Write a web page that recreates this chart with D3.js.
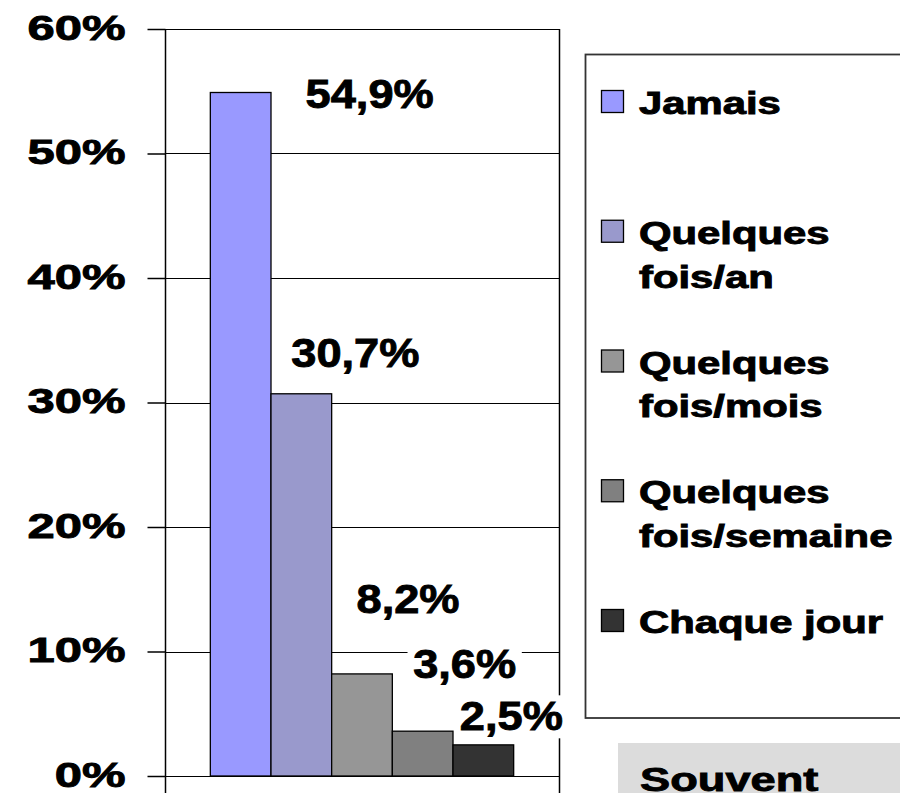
<!DOCTYPE html>
<html>
<head>
<meta charset="utf-8">
<script src="https://cdn.jsdelivr.net/npm/d3@7"></script>
<style>
  body { margin: 0; background: #fff; }
  svg text { font-family: "Liberation Sans", Arial, sans-serif; font-weight: bold; fill: #000; stroke: #000; stroke-width: 0.9px; }
</style>
</head>
<body>
<script>
// DATA
const series = ["Jamais", "Quelques fois/an", "Quelques fois/mois", "Quelques fois/semaine", "Chaque jour"];
const legendLines = [["Jamais"], ["Quelques", "fois/an"], ["Quelques", "fois/mois"], ["Quelques", "fois/semaine"], ["Chaque jour"]];
const values = [54.9, 30.7, 8.2, 3.6, 2.5];
const valueLabels = ["54,9%", "30,7%", "8,2%", "3,6%", "2,5%"];
const colors = ["#9999ff", "#9999cc", "#969696", "#808080", "#333333"];
const yTicks = [0, 10, 20, 30, 40, 50, 60];
const noteText = "Souvent";

// label nudges (dx from bar centre, dy from bar top to baseline) - labels were moved by hand in the original
const labelNudge = [[129, 16], [54, -27], [46, -61], [42, -53], [28, -15]];

// LAYOUT
const W = 900, H = 793;
const plot = { left: 165, right: 559, top: 29, bottom: 776 };

const svg = d3.select("body").append("svg")
  .attr("width", W)
  .attr("height", H);

const y = d3.scaleLinear().domain([0, 60]).range([plot.bottom, plot.top]);
const x0 = d3.scaleBand().domain([""]).range([plot.left, plot.right]).padding(0.13);
const x1 = d3.scaleBand().domain(series).range([0, x0.bandwidth()]);
const color = d3.scaleOrdinal().domain(series).range(colors);

// gridlines
svg.append("g")
  .selectAll("line")
  .data(yTicks)
  .join("line")
  .attr("x1", plot.left).attr("x2", plot.right)
  .attr("y1", d => Math.round(y(d)) + 0.5).attr("y2", d => Math.round(y(d)) + 0.5)
  .attr("stroke", "#000").attr("stroke-width", 1.2);

// right border of plot + category ticks under the axis
svg.append("line")
  .attr("x1", plot.right + 0.5).attr("x2", plot.right + 0.5)
  .attr("y1", plot.top).attr("y2", plot.bottom + 18)
  .attr("stroke", "#000").attr("stroke-width", 1.5);

// y axis
const yAxis = svg.append("g")
  .attr("transform", `translate(${plot.left + 0.5},0)`)
  .call(d3.axisLeft(y).tickValues(yTicks).tickSize(18).tickSizeOuter(0).tickFormat(d => d + "%"));
yAxis.select(".domain").remove();
yAxis.selectAll(".tick line").attr("stroke", "#000").attr("stroke-width", 1.5);
const axisSx = 1.4;
yAxis.selectAll(".tick text")
  .attr("font-size", 35)
  .attr("dy", null)
  .attr("x", -40 / axisSx)
  .attr("y", 10)
  .attr("text-anchor", "end")
  .attr("transform", `scale(${axisSx},1)`)
  .style("font-family", "'Liberation Sans', Arial, sans-serif")
  .style("font-weight", "bold");
yAxis.append("line")
  .attr("x1", 0).attr("x2", 0)
  .attr("y1", plot.top).attr("y2", plot.bottom + 18)
  .attr("stroke", "#000").attr("stroke-width", 1.5);

// bars
const barG = svg.append("g").attr("transform", `translate(${x0("")},0)`);
barG.selectAll("rect")
  .data(series.map((s, i) => ({ s, v: values[i] })))
  .join("rect")
  .attr("x", d => x1(d.s))
  .attr("width", x1.bandwidth())
  .attr("y", d => y(d.v))
  .attr("height", d => y(0) - y(d.v))
  .attr("fill", d => color(d.s))
  .attr("stroke", "#000")
  .attr("stroke-width", 1.3);

// value labels with white backgrounds
const labelSx = 1.13;
series.forEach((s, i) => {
  const cx = x0("") + x1(s) + x1.bandwidth() / 2 + labelNudge[i][0];
  const by = y(values[i]) + labelNudge[i][1];
  const g = svg.append("g").attr("transform", `translate(${cx},${by}) scale(${labelSx},1)`);
  const rect = g.append("rect").attr("fill", "#fff");
  const t = g.append("text")
    .attr("text-anchor", "middle")
    .attr("font-size", 40)
    .text(valueLabels[i]);
  const bb = t.node().getBBox();
  rect.attr("x", bb.x - 5).attr("y", bb.y + 2).attr("width", bb.width + 10).attr("height", bb.height - 2);
});

// legend
const legX = 585.5, legY = 54.5;
svg.append("rect")
  .attr("x", legX).attr("y", legY)
  .attr("width", 340).attr("height", 718 - legY)
  .attr("fill", "#fff")
  .attr("stroke", "#333").attr("stroke-width", 1.8);

const legendY = d3.scalePoint().domain(series).range([114, 633]);
const legSx = 1.35;
const legend = svg.append("g");
series.forEach((s, i) => {
  const base = legendY(s);
  legend.append("rect")
    .attr("x", 601.5).attr("y", base - 23.5)
    .attr("width", 22).attr("height", 22)
    .attr("fill", color(s))
    .attr("stroke", "#000").attr("stroke-width", 1.3);
  const t = legend.append("text")
    .attr("transform", `translate(639,${base}) scale(${legSx},1)`)
    .attr("font-size", 31);
  t.selectAll("tspan")
    .data(legendLines[i])
    .join("tspan")
    .attr("x", 0)
    .attr("y", (d, j) => j * 44)
    .text(d => d);
});

// note box at bottom right (cut by the page edge, as in the original)
svg.append("rect")
  .attr("x", 618).attr("y", 743)
  .attr("width", 300).attr("height", 60)
  .attr("fill", "#dcdcdc");
svg.append("text")
  .attr("transform", `translate(640,791) scale(1.33,1)`)
  .attr("font-size", 34)
  .text(noteText);
</script>
</body>
</html>
